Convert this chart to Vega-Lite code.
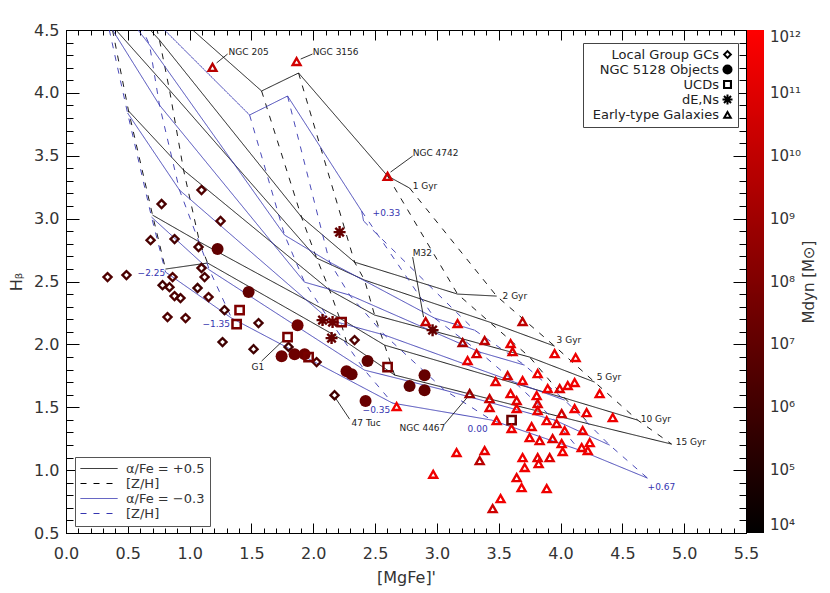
{
  "$schema": "https://vega.github.io/schema/vega-lite/v6.json",
  "width": 680,
  "height": 503,
  "autosize": {"type": "none"},
  "padding": {"left": 66, "top": 30, "right": 84, "bottom": 60},
  "background": "white",
  "config": {
    "view": {"stroke": "black", "strokeWidth": 1},
    "font": "DejaVu Sans",
    "axis": {"grid": false, "domain": false, "tickColor": "black", "tickWidth": 1, "labelFont": "DejaVu Sans", "labelFontSize": 16, "labelColor": "#333", "labelFlush": false, "titleFont": "DejaVu Sans", "titleFontSize": 16, "titleFontWeight": "normal", "titleColor": "#333"}
  },
  "datasets": {
    "gridA": [
      {"age": 1, "zh": -2.25, "x": 0.271, "y": 5.216}, {"age": 1, "zh": -1.35, "x": 0.659, "y": 4.818}, {"age": 1, "zh": -0.35, "x": 1.582, "y": 4.015}, {"age": 1, "zh": 0, "x": 1.881, "y": 4.158}, {"age": 1, "zh": 0.33, "x": 2.601, "y": 3.339}, {"age": 1, "zh": 0.67, "x": 2.779, "y": 3.243},
      {"age": 2, "zh": -2.25, "x": 0.311, "y": 4.898}, {"age": 2, "zh": -1.35, "x": 0.756, "y": 4.42}, {"age": 2, "zh": -0.35, "x": 1.905, "y": 3.012}, {"age": 2, "zh": 0, "x": 2.334, "y": 2.654}, {"age": 2, "zh": 0.33, "x": 3.167, "y": 2.4}, {"age": 2, "zh": 0.67, "x": 3.483, "y": 2.384},
      {"age": 3, "zh": -2.25, "x": 0.368, "y": 4.54}, {"age": 3, "zh": -1.35, "x": 0.837, "y": 4.023}, {"age": 3, "zh": -0.35, "x": 2.027, "y": 2.686}, {"age": 3, "zh": 0, "x": 2.415, "y": 2.511}, {"age": 3, "zh": 0.33, "x": 3.426, "y": 2.177}, {"age": 3, "zh": 0.67, "x": 3.952, "y": 1.986},
      {"age": 5, "zh": -2.25, "x": 0.506, "y": 3.856}, {"age": 5, "zh": -1.35, "x": 0.951, "y": 3.386}, {"age": 5, "zh": -0.35, "x": 2.132, "y": 2.432}, {"age": 5, "zh": 0, "x": 2.496, "y": 2.233}, {"age": 5, "zh": 0.33, "x": 3.75, "y": 1.899}, {"age": 5, "zh": 0.67, "x": 4.276, "y": 1.7},
      {"age": 10, "zh": -2.25, "x": 0.7, "y": 3.028}, {"age": 10, "zh": -1.35, "x": 1.08, "y": 2.814}, {"age": 10, "zh": -0.35, "x": 2.213, "y": 2.209}, {"age": 10, "zh": 0, "x": 2.577, "y": 1.994}, {"age": 10, "zh": 0.33, "x": 4.033, "y": 1.573}, {"age": 10, "zh": 0.67, "x": 4.623, "y": 1.398},
      {"age": 15, "zh": -2.25, "x": 0.805, "y": 2.599}, {"age": 15, "zh": -1.35, "x": 1.145, "y": 2.647}, {"age": 15, "zh": -0.35, "x": 2.269, "y": 2.018}, {"age": 15, "zh": 0, "x": 2.658, "y": 1.756}, {"age": 15, "zh": 0.33, "x": 4.235, "y": 1.366}, {"age": 15, "zh": 0.67, "x": 4.898, "y": 1.207}
    ],
    "gridB": [
      {"age": 1, "zh": -2.25, "x": 0.231, "y": 5.216}, {"age": 1, "zh": -1.35, "x": 0.473, "y": 4.818}, {"age": 1, "zh": -0.35, "x": 1.485, "y": 3.824}, {"age": 1, "zh": 0, "x": 1.792, "y": 3.975}, {"age": 1, "zh": 0.33, "x": 2.391, "y": 3.06}, {"age": 1, "zh": 0.67, "x": 2.407, "y": 2.981},
      {"age": 2, "zh": -2.25, "x": 0.271, "y": 4.898}, {"age": 2, "zh": -1.35, "x": 0.676, "y": 4.381}, {"age": 2, "zh": -0.35, "x": 1.768, "y": 2.869}, {"age": 2, "zh": 0, "x": 2.132, "y": 2.654}, {"age": 2, "zh": 0.33, "x": 2.981, "y": 2.209}, {"age": 2, "zh": 0.67, "x": 3.305, "y": 2.113},
      {"age": 3, "zh": -2.25, "x": 0.336, "y": 4.564}, {"age": 3, "zh": -1.35, "x": 0.756, "y": 3.903}, {"age": 3, "zh": -0.35, "x": 1.929, "y": 2.495}, {"age": 3, "zh": 0, "x": 2.294, "y": 2.392}, {"age": 3, "zh": 0.33, "x": 3.345, "y": 1.939}, {"age": 3, "zh": 0.67, "x": 3.709, "y": 1.835},
      {"age": 5, "zh": -2.25, "x": 0.498, "y": 3.84}, {"age": 5, "zh": -1.35, "x": 0.918, "y": 3.227}, {"age": 5, "zh": -0.35, "x": 2.132, "y": 2.193}, {"age": 5, "zh": 0, "x": 2.577, "y": 2.074}, {"age": 5, "zh": 0.33, "x": 3.628, "y": 1.7}, {"age": 5, "zh": 0.67, "x": 4.033, "y": 1.557},
      {"age": 10, "zh": -2.25, "x": 0.692, "y": 3.012}, {"age": 10, "zh": -1.35, "x": 1.161, "y": 2.591}, {"age": 10, "zh": -0.35, "x": 2.415, "y": 1.795}, {"age": 10, "zh": 0, "x": 3.062, "y": 1.636}, {"age": 10, "zh": 0.33, "x": 3.952, "y": 1.398}, {"age": 10, "zh": 0.67, "x": 4.397, "y": 1.199},
      {"age": 15, "zh": -2.25, "x": 0.805, "y": 2.575}, {"age": 15, "zh": -1.35, "x": 1.339, "y": 2.209}, {"age": 15, "zh": -0.35, "x": 2.641, "y": 1.533}, {"age": 15, "zh": 0, "x": 3.442, "y": 1.398}, {"age": 15, "zh": 0.33, "x": 4.154, "y": 1.159}, {"age": 15, "zh": 0.67, "x": 4.704, "y": 0.936}
    ],
    "obj": [
      {"t": "Local Group GCs", "x": 1.096, "y": 3.227, "m": 3e6}, {"t": "Local Group GCs", "x": 0.773, "y": 3.116, "m": 2e6}, {"t": "Local Group GCs", "x": 1.25, "y": 2.981, "m": 3e6}, {"t": "Local Group GCs", "x": 0.684, "y": 2.829, "m": 2e6}, {"t": "Local Group GCs", "x": 0.878, "y": 2.837, "m": 1.5e6}, {"t": "Local Group GCs", "x": 1.072, "y": 2.774, "m": 2e6}, {"t": "Local Group GCs", "x": 0.336, "y": 2.535, "m": 3e6}, {"t": "Local Group GCs", "x": 0.489, "y": 2.551, "m": 2e6}, {"t": "Local Group GCs", "x": 1.096, "y": 2.607, "m": 2e6}, {"t": "Local Group GCs", "x": 0.862, "y": 2.535, "m": 4e6}, {"t": "Local Group GCs", "x": 0.781, "y": 2.471, "m": 1e6}, {"t": "Local Group GCs", "x": 0.837, "y": 2.455, "m": 2e6}, {"t": "Local Group GCs", "x": 0.878, "y": 2.384, "m": 3e6}, {"t": "Local Group GCs", "x": 0.926, "y": 2.368, "m": 2e6}, {"t": "Local Group GCs", "x": 1.064, "y": 2.448, "m": 1e6}, {"t": "Local Group GCs", "x": 1.121, "y": 2.535, "m": 2e6}, {"t": "Local Group GCs", "x": 1.153, "y": 2.376, "m": 3e6}, {"t": "Local Group GCs", "x": 1.282, "y": 2.272, "m": 1e6}, {"t": "Local Group GCs", "x": 0.821, "y": 2.217, "m": 3e6}, {"t": "Local Group GCs", "x": 0.967, "y": 2.209, "m": 3e6}, {"t": "Local Group GCs", "x": 1.557, "y": 2.169, "m": 1.5e6}, {"t": "Local Group GCs", "x": 1.266, "y": 2.018, "m": 1e6}, {"t": "Local Group GCs", "x": 1.517, "y": 1.962, "m": 1e6}, {"t": "Local Group GCs", "x": 2.027, "y": 1.859, "m": 3e6}, {"t": "Local Group GCs", "x": 2.172, "y": 1.596, "m": 1e6}, {"t": "Local Group GCs", "x": 2.334, "y": 2.034, "m": 3e6}, {"t": "Local Group GCs", "x": 1.8, "y": 1.98, "m": 1e6},
      {"t": "NGC 5128 Objects", "x": 1.226, "y": 2.758, "m": 1e7}, {"t": "NGC 5128 Objects", "x": 1.477, "y": 2.416, "m": 1.2e7}, {"t": "NGC 5128 Objects", "x": 1.873, "y": 2.153, "m": 4e7}, {"t": "NGC 5128 Objects", "x": 1.744, "y": 1.906, "m": 3e7}, {"t": "NGC 5128 Objects", "x": 1.849, "y": 1.922, "m": 2.5e7}, {"t": "NGC 5128 Objects", "x": 1.93, "y": 1.922, "m": 3e7}, {"t": "NGC 5128 Objects", "x": 2.269, "y": 1.787, "m": 2e7}, {"t": "NGC 5128 Objects", "x": 2.31, "y": 1.763, "m": 1.5e7}, {"t": "NGC 5128 Objects", "x": 2.439, "y": 1.867, "m": 1e7}, {"t": "NGC 5128 Objects", "x": 2.423, "y": 1.549, "m": 2e7}, {"t": "NGC 5128 Objects", "x": 2.779, "y": 1.668, "m": 1e7}, {"t": "NGC 5128 Objects", "x": 2.9, "y": 1.755, "m": 1.5e7}, {"t": "NGC 5128 Objects", "x": 2.9, "y": 1.636, "m": 1.2e7},
      {"t": "UCDs", "x": 1.404, "y": 2.272, "m": 1e8}, {"t": "UCDs", "x": 1.38, "y": 2.161, "m": 6e7}, {"t": "UCDs", "x": 1.792, "y": 2.058, "m": 6e7}, {"t": "UCDs", "x": 1.962, "y": 1.899, "m": 6e7}, {"t": "UCDs", "x": 2.229, "y": 2.177, "m": 1e8}, {"t": "UCDs", "x": 2.601, "y": 1.819, "m": 6e7}, {"t": "UCDs", "x": 3.604, "y": 1.397, "m": 2e7},
      {"t": "dE,Ns", "x": 2.213, "y": 2.893, "m": 1.5e7}, {"t": "dE,Ns", "x": 2.075, "y": 2.193, "m": 1.5e7}, {"t": "dE,Ns", "x": 2.156, "y": 2.177, "m": 3e7}, {"t": "dE,Ns", "x": 2.148, "y": 2.05, "m": 1.5e7}, {"t": "dE,Ns", "x": 2.965, "y": 2.113, "m": 1.5e7},
      {"t": "Early-type Galaxies", "x": 1.185, "y": 4.206, "m": 6.3e9}, {"t": "Early-type Galaxies", "x": 1.865, "y": 4.253, "m": 4e10}, {"t": "Early-type Galaxies", "x": 2.601, "y": 3.339, "m": 3.2e10}, {"t": "Early-type Galaxies", "x": 2.909, "y": 2.185, "m": 1.6e10}, {"t": "Early-type Galaxies", "x": 3.167, "y": 2.169, "m": 1e11}, {"t": "Early-type Galaxies", "x": 3.693, "y": 2.185, "m": 1e10}, {"t": "Early-type Galaxies", "x": 3.208, "y": 2.018, "m": 2.5e9}, {"t": "Early-type Galaxies", "x": 3.386, "y": 2.034, "m": 1e10}, {"t": "Early-type Galaxies", "x": 3.596, "y": 2.01, "m": 1.6e11}, {"t": "Early-type Galaxies", "x": 3.321, "y": 1.93, "m": 6.3e10},
      {"t": "Early-type Galaxies", "x": 3.612, "y": 1.946, "m": 1e11}, {"t": "Early-type Galaxies", "x": 3.248, "y": 1.875, "m": 2e11}, {"t": "Early-type Galaxies", "x": 3.952, "y": 1.93, "m": 2e11}, {"t": "Early-type Galaxies", "x": 4.122, "y": 1.899, "m": 3.2e11}, {"t": "Early-type Galaxies", "x": 3.815, "y": 1.771, "m": 3.2e11}, {"t": "Early-type Galaxies", "x": 3.572, "y": 1.755, "m": 5e10}, {"t": "Early-type Galaxies", "x": 3.475, "y": 1.708, "m": 1.6e11}, {"t": "Early-type Galaxies", "x": 3.693, "y": 1.716, "m": 3.2e11}, {"t": "Early-type Galaxies", "x": 3.265, "y": 1.612, "m": 6.3e8}, {"t": "Early-type Galaxies", "x": 3.426, "y": 1.572, "m": 2e10},
      {"t": "Early-type Galaxies", "x": 3.596, "y": 1.612, "m": 2e11}, {"t": "Early-type Galaxies", "x": 3.645, "y": 1.557, "m": 1e11}, {"t": "Early-type Galaxies", "x": 3.807, "y": 1.596, "m": 4e11}, {"t": "Early-type Galaxies", "x": 3.896, "y": 1.652, "m": 4e11}, {"t": "Early-type Galaxies", "x": 3.993, "y": 1.652, "m": 1e11}, {"t": "Early-type Galaxies", "x": 4.058, "y": 1.676, "m": 2.5e11}, {"t": "Early-type Galaxies", "x": 4.114, "y": 1.7, "m": 4e11}, {"t": "Early-type Galaxies", "x": 4.316, "y": 1.612, "m": 3.2e11}, {"t": "Early-type Galaxies", "x": 3.426, "y": 1.501, "m": 1e11}, {"t": "Early-type Galaxies", "x": 3.645, "y": 1.493, "m": 3.2e11},
      {"t": "Early-type Galaxies", "x": 3.815, "y": 1.533, "m": 1e11}, {"t": "Early-type Galaxies", "x": 3.815, "y": 1.477, "m": 2.5e11}, {"t": "Early-type Galaxies", "x": 4.114, "y": 1.493, "m": 4e11}, {"t": "Early-type Galaxies", "x": 4.211, "y": 1.461, "m": 2e11}, {"t": "Early-type Galaxies", "x": 4.422, "y": 1.421, "m": 3.2e11}, {"t": "Early-type Galaxies", "x": 4.009, "y": 1.453, "m": 3.2e10}, {"t": "Early-type Galaxies", "x": 3.483, "y": 1.397, "m": 3.2e11}, {"t": "Early-type Galaxies", "x": 3.604, "y": 1.334, "m": 2.5e11}, {"t": "Early-type Galaxies", "x": 3.766, "y": 1.35, "m": 2e11}, {"t": "Early-type Galaxies", "x": 3.888, "y": 1.397, "m": 3.2e11},
      {"t": "Early-type Galaxies", "x": 3.968, "y": 1.374, "m": 1.6e11}, {"t": "Early-type Galaxies", "x": 4.033, "y": 1.318, "m": 4e11}, {"t": "Early-type Galaxies", "x": 4.179, "y": 1.318, "m": 2.5e11}, {"t": "Early-type Galaxies", "x": 3.75, "y": 1.262, "m": 3.2e11}, {"t": "Early-type Galaxies", "x": 3.831, "y": 1.238, "m": 1.6e11}, {"t": "Early-type Galaxies", "x": 3.936, "y": 1.254, "m": 1e11}, {"t": "Early-type Galaxies", "x": 4.009, "y": 1.214, "m": 3.2e11}, {"t": "Early-type Galaxies", "x": 4.236, "y": 1.222, "m": 4e11}, {"t": "Early-type Galaxies", "x": 4.171, "y": 1.183, "m": 2.5e11}, {"t": "Early-type Galaxies", "x": 4.22, "y": 1.159, "m": 3.2e11},
      {"t": "Early-type Galaxies", "x": 4.017, "y": 1.151, "m": 4e11}, {"t": "Early-type Galaxies", "x": 3.159, "y": 1.143, "m": 3.2e11}, {"t": "Early-type Galaxies", "x": 3.386, "y": 1.159, "m": 2e11}, {"t": "Early-type Galaxies", "x": 3.346, "y": 1.079, "m": 6.3e9}, {"t": "Early-type Galaxies", "x": 3.693, "y": 1.103, "m": 4e11}, {"t": "Early-type Galaxies", "x": 3.815, "y": 1.103, "m": 1.6e11}, {"t": "Early-type Galaxies", "x": 3.823, "y": 1.055, "m": 2.5e11}, {"t": "Early-type Galaxies", "x": 3.912, "y": 1.103, "m": 1e11}, {"t": "Early-type Galaxies", "x": 3.71, "y": 1.024, "m": 3.2e11}, {"t": "Early-type Galaxies", "x": 3.645, "y": 0.944, "m": 2e11},
      {"t": "Early-type Galaxies", "x": 3.685, "y": 0.864, "m": 4e11}, {"t": "Early-type Galaxies", "x": 3.888, "y": 0.856, "m": 3.2e11}, {"t": "Early-type Galaxies", "x": 3.515, "y": 0.777, "m": 4e11}, {"t": "Early-type Galaxies", "x": 3.451, "y": 0.697, "m": 3.2e10}, {"t": "Early-type Galaxies", "x": 2.674, "y": 1.509, "m": 4e11}, {"t": "Early-type Galaxies", "x": 2.97, "y": 0.97, "m": 3.2e11}
    ],
    "lead": [
      {"x": 1.218, "y": 4.238, "x2": 1.307, "y2": 4.309}, {"x": 1.898, "y": 4.269, "x2": 1.994, "y2": 4.309}, {"x": 2.625, "y": 3.37, "x2": 2.804, "y2": 3.498}, {"x": 2.804, "y": 2.694, "x2": 2.892, "y2": 2.217}, {"x": 1.582, "y": 1.867, "x2": 1.76, "y2": 2.034}, {"x": 2.18, "y": 1.573, "x2": 2.294, "y2": 1.405}, {"x": 3.062, "y": 1.366, "x2": 3.248, "y2": 1.581}
    ],
    "ann": [
      {"label": "NGC 205", "x": 1.315, "y": 4.325}, {"label": "NGC 3156", "x": 1.996, "y": 4.325}, {"label": "NGC 4742", "x": 2.804, "y": 3.522}, {"label": "1 Gyr", "x": 2.804, "y": 3.259}, {"label": "2 Gyr", "x": 3.531, "y": 2.384}, {"label": "3 Gyr", "x": 3.968, "y": 2.034}, {"label": "5 Gyr", "x": 4.292, "y": 1.74}, {"label": "10 Gyr", "x": 4.648, "y": 1.405}, {"label": "15 Gyr", "x": 4.931, "y": 1.222}, {"label": "M32", "x": 2.804, "y": 2.726}, {"label": "G1", "x": 1.501, "y": 1.819}, {"label": "47 Tuc", "x": 2.31, "y": 1.374}, {"label": "NGC 4467", "x": 2.698, "y": 1.334}
    ],
    "zlab": [
      {"label": "−2.25", "x": 0.579, "y": 2.567}, {"label": "−1.35", "x": 1.104, "y": 2.161}, {"label": "−0.35", "x": 2.399, "y": 1.477}, {"label": "0.00", "x": 3.248, "y": 1.326}, {"label": "+0.33", "x": 2.48, "y": 3.044}, {"label": "+0.67", "x": 4.704, "y": 0.865}
    ]
  },
  "resolve": {"axis": {"x": "independent", "y": "independent"}},
  "layer": [
    {
      "data": {"name": "gridA"},
      "mark": {"type": "line", "strokeWidth": 0.9, "clip": true},
      "encoding": {
        "x": {"field": "x", "type": "quantitative", "scale": {"domain": [0, 5.5], "nice": false, "zero": false},
          "axis": {"orient": "bottom", "values": [0, 0.5, 1, 1.5, 2, 2.5, 3, 3.5, 4, 4.5, 5, 5.5], "format": ".1f", "tickSize": -10, "labelPadding": 22, "title": "[MgFe]'", "titlePadding": 8}},
        "y": {"field": "y", "type": "quantitative", "scale": {"domain": [0.5, 4.5], "nice": false, "zero": false},
          "axis": {"orient": "left", "values": [0.5, 1, 1.5, 2, 2.5, 3, 3.5, 4, 4.5], "format": ".1f", "tickSize": -13, "labelPadding": 20, "title": "Hᵦ", "titlePadding": 9}},
        "detail": {"field": "age", "type": "nominal"},
        "order": {"field": "zh", "type": "quantitative"},
        "stroke": {"datum": "k1", "type": "nominal",
          "scale": {"domain": ["k1", "k2", "k3", "k4"], "range": ["black", "black", "#3535b0", "#3535b0"]},
          "legend": {"orient": "none", "legendX": 9, "legendY": 427, "title": null, "symbolType": "M-1,0L1,0", "symbolSize": 1369, "symbolStrokeWidth": 1, "clipHeight": 13, "rowPadding": 1, "padding": 5, "labelFontSize": 13, "labelColor": "#333", "labelOffset": 8, "strokeColor": "#555", "fillColor": "white",
            "labelExpr": "datum.value == 'k1' ? 'α/Fe = +0.5' : datum.value == 'k3' ? 'α/Fe = −0.3' : '[Z/H]'"}},
        "strokeDash": {"datum": "k1", "type": "nominal",
          "scale": {"domain": ["k1", "k2", "k3", "k4"], "range": [[1, 0], [6, 7], [1, 0], [6, 7]]},
          "legend": {"orient": "none", "legendX": 9, "legendY": 427, "title": null, "symbolType": "M-1,0L1,0", "symbolSize": 1369, "symbolStrokeWidth": 1, "clipHeight": 13, "rowPadding": 1, "padding": 5, "labelFontSize": 13, "labelColor": "#333", "labelOffset": 8, "strokeColor": "#555", "fillColor": "white",
            "labelExpr": "datum.value == 'k1' ? 'α/Fe = +0.5' : datum.value == 'k3' ? 'α/Fe = −0.3' : '[Z/H]'"}}
      }
    },
    {
      "data": {"name": "gridA"},
      "mark": {"type": "line", "strokeWidth": 0.9, "clip": true},
      "encoding": {
        "x": {"field": "x", "type": "quantitative", "scale": {"domain": [0, 5.5], "nice": false, "zero": false},
          "axis": {"orient": "bottom", "values": [0, 0.1, 0.2, 0.3, 0.4, 0.5, 0.6, 0.7, 0.8, 0.9, 1, 1.1, 1.2, 1.3, 1.4, 1.5, 1.6, 1.7, 1.8, 1.9, 2, 2.1, 2.2, 2.3, 2.4, 2.5, 2.6, 2.7, 2.8, 2.9, 3, 3.1, 3.2, 3.3, 3.4, 3.5, 3.6, 3.7, 3.8, 3.9, 4, 4.1, 4.2, 4.3, 4.4, 4.5, 4.6, 4.7, 4.8, 4.9, 5, 5.1, 5.2, 5.3, 5.4, 5.5], "tickSize": -5, "labels": false, "title": null}},
        "y": {"field": "y", "type": "quantitative", "scale": {"domain": [0.5, 4.5], "nice": false, "zero": false},
          "axis": {"orient": "left", "values": [0.5, 0.6, 0.7, 0.8, 0.9, 1, 1.1, 1.2, 1.3, 1.4, 1.5, 1.6, 1.7, 1.8, 1.9, 2, 2.1, 2.2, 2.3, 2.4, 2.5, 2.6, 2.7, 2.8, 2.9, 3, 3.1, 3.2, 3.3, 3.4, 3.5, 3.6, 3.7, 3.8, 3.9, 4, 4.1, 4.2, 4.3, 4.4, 4.5], "tickSize": -7, "labels": false, "title": null}},
        "detail": {"field": "zh", "type": "nominal"},
        "order": {"field": "age", "type": "quantitative"},
        "stroke": {"datum": "k2", "type": "nominal"},
        "strokeDash": {"datum": "k2", "type": "nominal"}
      }
    },
    {
      "data": {"name": "gridB"},
      "mark": {"type": "line", "strokeWidth": 0.9, "clip": true},
      "encoding": {
        "x": {"field": "x", "type": "quantitative", "scale": {"domain": [0, 5.5], "nice": false, "zero": false},
          "axis": {"orient": "top", "values": [0, 0.5, 1, 1.5, 2, 2.5, 3, 3.5, 4, 4.5, 5, 5.5], "tickSize": -10, "labels": false, "title": null}},
        "y": {"field": "y", "type": "quantitative", "scale": {"domain": [0.5, 4.5], "nice": false, "zero": false},
          "axis": {"orient": "right", "values": [0.5, 1, 1.5, 2, 2.5, 3, 3.5, 4, 4.5], "tickSize": -13, "labels": false, "title": "Mdyn [M⊙]", "titleAngle": 270, "titleFontSize": 15, "titlePadding": 70}},
        "detail": {"field": "age", "type": "nominal"},
        "order": {"field": "zh", "type": "quantitative"},
        "stroke": {"datum": "k3", "type": "nominal"},
        "strokeDash": {"datum": "k3", "type": "nominal"}
      }
    },
    {
      "data": {"name": "gridB"},
      "mark": {"type": "line", "strokeWidth": 0.9, "clip": true},
      "encoding": {
        "x": {"field": "x", "type": "quantitative", "scale": {"domain": [0, 5.5], "nice": false, "zero": false},
          "axis": {"orient": "top", "values": [0, 0.1, 0.2, 0.3, 0.4, 0.5, 0.6, 0.7, 0.8, 0.9, 1, 1.1, 1.2, 1.3, 1.4, 1.5, 1.6, 1.7, 1.8, 1.9, 2, 2.1, 2.2, 2.3, 2.4, 2.5, 2.6, 2.7, 2.8, 2.9, 3, 3.1, 3.2, 3.3, 3.4, 3.5, 3.6, 3.7, 3.8, 3.9, 4, 4.1, 4.2, 4.3, 4.4, 4.5, 4.6, 4.7, 4.8, 4.9, 5, 5.1, 5.2, 5.3, 5.4, 5.5], "tickSize": -5, "labels": false, "title": null}},
        "y": {"field": "y", "type": "quantitative", "scale": {"domain": [0.5, 4.5], "nice": false, "zero": false},
          "axis": {"orient": "right", "values": [0.5, 0.6, 0.7, 0.8, 0.9, 1, 1.1, 1.2, 1.3, 1.4, 1.5, 1.6, 1.7, 1.8, 1.9, 2, 2.1, 2.2, 2.3, 2.4, 2.5, 2.6, 2.7, 2.8, 2.9, 3, 3.1, 3.2, 3.3, 3.4, 3.5, 3.6, 3.7, 3.8, 3.9, 4, 4.1, 4.2, 4.3, 4.4, 4.5], "tickSize": -7, "labels": false, "title": null}},
        "detail": {"field": "zh", "type": "nominal"},
        "order": {"field": "age", "type": "quantitative"},
        "stroke": {"datum": "k4", "type": "nominal"},
        "strokeDash": {"datum": "k4", "type": "nominal"}
      }
    },
    {
      "data": {"name": "lead"},
      "mark": {"type": "rule", "color": "black", "strokeWidth": 0.8},
      "encoding": {
        "x": {"field": "x", "type": "quantitative", "axis": null},
        "y": {"field": "y", "type": "quantitative", "axis": null},
        "x2": {"field": "x2"},
        "y2": {"field": "y2"}
      }
    },
    {
      "data": {"name": "obj"},
      "mark": {"type": "point", "filled": true, "size": 144, "opacity": 1, "color": "black"},
      "encoding": {
        "x": {"field": "x", "type": "quantitative", "axis": null},
        "y": {"field": "y", "type": "quantitative", "axis": null},
        "color": {"field": "m", "type": "quantitative",
          "scale": {"type": "log", "domain": [10000, 1000000000000], "range": ["#000000", "#ff0000"], "interpolate": "rgb"},
          "legend": {"orient": "none", "legendX": 681, "legendY": 0, "direction": "vertical", "gradientLength": 503, "gradientThickness": 17, "gradientStrokeWidth": 0, "padding": 0,
            "values": [10000, 100000, 1000000, 10000000, 100000000, 1000000000, 10000000000, 100000000000, 1000000000000],
            "labelExpr": "'10' + ['⁴','⁵','⁶','⁷','⁸','⁹','¹⁰','¹¹','¹²'][round(log(datum.value)/LN10) - 4]",
            "labelFontSize": 15, "labelColor": "#333", "labelOffset": 6, "labelOverlap": false, "title": null}},
        "shape": {"field": "t", "type": "nominal",
          "scale": {"domain": ["Local Group GCs", "NGC 5128 Objects", "UCDs", "dE,Ns", "Early-type Galaxies"],
            "range": ["M0,-0.95L0.95,0L0,0.95L-0.95,0ZM0,-0.4L-0.4,0L0,0.4L0.4,0Z", "circle", "M-0.9,-0.9L0.9,-0.9L0.9,0.9L-0.9,0.9ZM-0.48,-0.48L-0.48,0.48L0.48,0.48L0.48,-0.48Z", "M-1,-0.2L1,-0.2L1,0.2L-1,0.2ZM-0.2,-1L0.2,-1L0.2,1L-0.2,1ZM-0.566,-0.848L0.848,0.566L0.566,0.848L-0.848,-0.566ZM-0.848,0.566L0.566,-0.848L0.848,-0.566L-0.566,0.848Z", "M0,-0.9L1,0.85L-1,0.85ZM0,-0.106L-0.32,0.454L0.32,0.454Z"]},
          "legend": {"orient": "none", "legendX": 517, "legendY": 13, "title": null, "symbolSize": 100, "symbolStrokeWidth": 0, "symbolFillColor": "black", "labelFontSize": 13, "labelColor": "#222", "labelAlign": "right", "labelOffset": -15, "symbolOffset": 133, "rowPadding": 1, "padding": 5, "strokeColor": "#444", "fillColor": "white"}}
      }
    },
    {
      "data": {"name": "ann"},
      "mark": {"type": "text", "align": "left", "baseline": "middle", "fontSize": 9, "color": "#222", "font": "DejaVu Sans"},
      "encoding": {
        "x": {"field": "x", "type": "quantitative", "axis": null},
        "y": {"field": "y", "type": "quantitative", "axis": null},
        "text": {"field": "label"}
      }
    },
    {
      "data": {"name": "zlab"},
      "mark": {"type": "text", "align": "left", "baseline": "middle", "fontSize": 9, "color": "#3535b0", "font": "DejaVu Sans"},
      "encoding": {
        "x": {"field": "x", "type": "quantitative", "axis": null},
        "y": {"field": "y", "type": "quantitative", "axis": null},
        "text": {"field": "label"}
      }
    }
  ]
}
